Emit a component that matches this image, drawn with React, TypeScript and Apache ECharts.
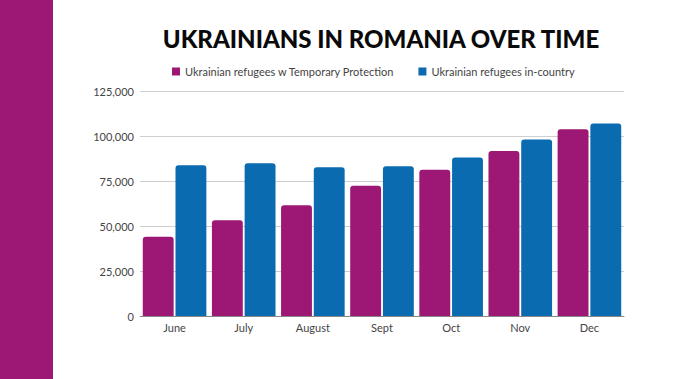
import React, { useEffect, useRef } from "react";
import * as echarts from "echarts";

const categories = ["June", "July", "August", "Sept", "Oct", "Nov", "Dec"];
const temporaryProtection = [44000, 53200, 61500, 72400, 81300, 91700, 103700];
const inCountry = [83700, 84800, 82600, 83200, 88000, 98000, 107000];
const seriesNames = [
  "Ukrainian refugees w Temporary Protection",
  "Ukrainian refugees in-country",
];
const titleText = "UKRAINIANS IN ROMANIA OVER TIME";

const PURPLE = "#9c1874";
const BLUE = "#0a6bb1";
const FONT = "Lato, 'Open Sans', sans-serif";

export default function App() {
  const ref = useRef<HTMLDivElement>(null);
  useEffect(() => {
    if (!ref.current) return;
    const chart = echarts.init(ref.current, null, { renderer: "svg" });
    chart.setOption({
      animation: false,
      backgroundColor: "#ffffff",
      textStyle: { fontFamily: FONT },
      graphic: [
        {
          type: "rect",
          left: 0,
          top: 0,
          shape: { width: 53, height: 379 },
          style: { fill: PURPLE },
          silent: true,
        },
      ],
      title: {
        text: titleText,
        left: 376,
        textAlign: "center",
        top: 21,
        textStyle: {
          fontFamily: FONT,
          fontSize: 24,
          fontWeight: 900,
          color: "#0a0a0a",
        },
      },
      legend: {
        top: 61,
        left: 167,
        itemWidth: 8,
        itemHeight: 8,
        itemGap: 24,
        icon: "rect",
        textStyle: { fontFamily: FONT, fontSize: 11, color: "#444" },
        data: seriesNames,
      },
      grid: { left: 140, right: 76, top: 91, bottom: 63 },
      xAxis: {
        type: "category",
        data: categories,
        axisTick: { show: false },
        axisLine: { lineStyle: { color: "#888", width: 1 } },
        axisLabel: { color: "#444", fontSize: 11, margin: 6, fontFamily: FONT },
      },
      yAxis: {
        type: "value",
        min: 0,
        max: 125000,
        interval: 25000,
        axisLine: { show: false },
        axisTick: { show: false },
        splitLine: { lineStyle: { color: "#cfcfcf", width: 1 } },
        axisLabel: {
          color: "#444",
          fontSize: 11,
          margin: 6,
          fontFamily: FONT,
          formatter: (v: number) => v.toLocaleString("en-US"),
        },
      },
      series: [
        {
          name: seriesNames[0],
          type: "bar",
          data: temporaryProtection,
          itemStyle: { color: PURPLE, borderRadius: [3, 3, 0, 0] },
          barGap: "6%",
          barCategoryGap: "8%",
        },
        {
          name: seriesNames[1],
          type: "bar",
          data: inCountry,
          itemStyle: { color: BLUE, borderRadius: [3, 3, 0, 0] },
          barGap: "6%",
          barCategoryGap: "8%",
        },
      ],
    });
    return () => chart.dispose();
  }, []);
  return (
    <div
      ref={ref}
      style={{ position: "fixed", left: 0, top: 0, width: 700, height: 379 }}
    />
  );
}
